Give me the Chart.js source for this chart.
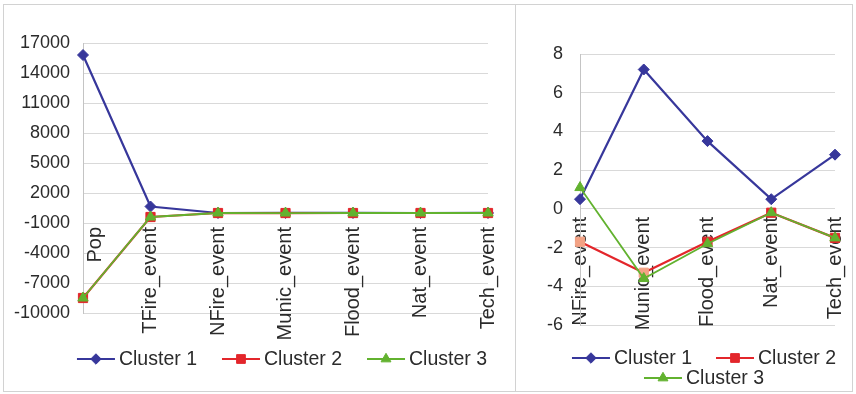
<!DOCTYPE html>
<html>
<head>
<meta charset="utf-8">
<script src="https://cdn.jsdelivr.net/npm/chart.js@4/dist/chart.umd.min.js"></script>
<style>
  html, body { margin: 0; padding: 0; background: #ffffff; }
  #frame { position: absolute; left: 3px; top: 4px; width: 850px; height: 388px;
           border: 1px solid #d2d2d2; box-sizing: border-box; }
  #divider { position: absolute; left: 515px; top: 4px; width: 1px; height: 388px; background: #d2d2d2; }
  #allChart { position: absolute; left: 0; top: 0; }
  #eventChart { position: absolute; left: 516px; top: 0; }
</style>
</head>
<body>
<div id="frame"></div>
<div id="divider"></div>
<canvas id="allChart" width="515" height="394"></canvas>
<canvas id="eventChart" width="337" height="394"></canvas>
<script>
const FONT = "'Liberation Sans', Arial, sans-serif";

// Factors shown on the two category axes
const allFactors = ['Pop', 'TFire_event', 'NFire_event', 'Munic_event', 'Flood_event', 'Nat_event', 'Tech_event'];
const eventFactors = ['NFire_event', 'Munic_event', 'Flood_event', 'Nat_event', 'Tech_event'];
const clusterNames = ['Cluster 1', 'Cluster 2', 'Cluster 3'];

// Cluster centres on the population and total-fire columns (Cluster 1, 2, 3)
const popCentres = [15800, -8500, -8500];
const tfireCentres = [650, -400, -400];

// Cluster centres on the event columns
const cluster1Events = [0.5, 7.2, 3.5, 0.5, 2.8];
const cluster2Events = [-1.7, -3.3, -1.7, -0.2, -1.5];
const cluster3Events = [1.1, -3.6, -1.8, -0.2, -1.5];

// Value-axis ticks
const allTicks = [-10000, -7000, -4000, -1000, 2000, 5000, 8000, 11000, 14000, 17000];
const eventTicks = [-6, -4, -2, 0, 2, 4, 6, 8];

const eventSeries = [cluster1Events, cluster2Events, cluster3Events];
const allSeries = eventSeries.map((ev, i) => [popCentres[i], tfireCentres[i], ...ev]);

const clusterStyles = [
  { color: '#37379b', point: 'rectRot', radius: 5.5, width: 2.2, order: 2 },
  { color: '#e3262b', point: 'rect', radius: 6.5, width: 2.2, order: 1 },
  { color: '#62b22f', point: 'triangle', radius: 6, width: 1.8, order: 0 }
];
const highlightFill = '#f3a284';

function buildDatasets(series, highlighted) {
  return series.map((values, i) => {
    const s = clusterStyles[i];
    const fills = values.map((v, j) => (highlighted[i] && highlighted[i].includes(j)) ? highlightFill : s.color);
    return {
      label: clusterNames[i],
      data: values,
      borderColor: s.color,
      borderWidth: s.width,
      backgroundColor: s.color,
      pointStyle: s.point,
      pointRadius: s.radius,
      pointBackgroundColor: fills,
      pointBorderColor: fills,
      pointBorderWidth: 1,
      tension: 0,
      clip: false,
      order: s.order
    };
  });
}

// Legend drawn as a short line with the series marker, then the name
const lineLegend = {
  id: 'lineLegend',
  afterDraw(chart, args, opts) {
    const ctx = chart.ctx;
    ctx.save();
    ctx.font = opts.fontSize + 'px ' + FONT;
    ctx.textBaseline = 'middle';
    ctx.textAlign = 'left';
    const sets = chart.data.datasets;
    const widths = sets.map(ds => opts.lineLength + opts.gap + ctx.measureText(ds.label).width);
    opts.rows.forEach((row, r) => {
      const total = row.reduce((a, i) => a + widths[i], 0) + opts.spacing * (row.length - 1);
      let x = opts.centerX - total / 2;
      const y = opts.top + r * opts.rowHeight;
      row.forEach(i => {
        const ds = sets[i];
        ctx.strokeStyle = ds.borderColor;
        ctx.lineWidth = ds.borderWidth;
        ctx.beginPath();
        ctx.moveTo(x, y);
        ctx.lineTo(x + opts.lineLength, y);
        ctx.stroke();
        ctx.fillStyle = ds.borderColor;
        ctx.lineWidth = 1;
        Chart.helpers.drawPoint(ctx, { pointStyle: ds.pointStyle, radius: ds.pointRadius * 0.95, rotation: 0, borderWidth: 1 },
          x + opts.lineLength / 2, y);
        ctx.fillStyle = '#2b2b2b';
        ctx.fillText(ds.label, x + opts.lineLength + opts.gap, y + 1);
        x += widths[i] + opts.spacing;
      });
    });
    ctx.restore();
  }
};

function buildChart(canvasId, cfg) {
  const ticks = cfg.ticks;
  return new Chart(document.getElementById(canvasId), {
    type: 'line',
    data: { labels: cfg.labels, datasets: cfg.datasets },
    options: {
      responsive: false,
      animation: false,
      events: [],
      layout: { padding: { left: 0, right: cfg.padRight, top: cfg.padTop, bottom: cfg.padBottom } },
      plugins: {
        legend: { display: false },
        tooltip: { enabled: false },
        lineLegend: cfg.legend
      },
      scales: {
        x: {
          position: { y: 0 },
          offset: false,
          grid: { display: false, drawTicks: false },
          border: { display: false },
          ticks: {
            autoSkip: false,
            minRotation: 90,
            maxRotation: 90,
            padding: cfg.labelGap,
            color: '#2b2b2b',
            font: c => (cfg.nudgeFirst && c.index === 0)
              ? { family: FONT, size: 20, lineHeight: 0.6 }
              : { family: FONT, size: 20, lineHeight: 1.2 },
            // the first label is pushed one half-line to the right, clear of the value axis
            callback: (v, i) => (cfg.nudgeFirst && i === 0) ? ['', cfg.labels[i]] : cfg.labels[i]
          },
          afterFit: s => { s.paddingLeft = 0; s.paddingRight = 0; }
        },
        y: {
          min: ticks[0],
          max: ticks[ticks.length - 1],
          ticks: {
            stepSize: ticks[1] - ticks[0],
            padding: cfg.tickGap,
            color: '#2b2b2b',
            font: { family: FONT, size: 18 },
            callback: v => String(v)
          },
          grid: { color: '#d9d9d9', lineWidth: 1, drawTicks: false },
          border: { display: true, color: '#c4c4c4', width: 1 },
          afterFit: s => { s.width = cfg.axisWidth; }
        }
      }
    },
    plugins: [lineLegend]
  });
}

buildChart('allChart', {
  labels: allFactors,
  datasets: buildDatasets(allSeries, []),
  ticks: allTicks,
  axisWidth: 83,
  tickGap: 13,
  labelGap: 14,
  nudgeFirst: true,
  padTop: 43,
  padBottom: 81,
  padRight: 27,
  legend: { fontSize: 19.5, lineLength: 38, gap: 4, spacing: 25, centerX: 282, top: 359, rowHeight: 20, rows: [[0, 1, 2]] }
});

buildChart('eventChart', {
  labels: eventFactors,
  datasets: buildDatasets(eventSeries, [null, [0, 1], null]),
  ticks: eventTicks,
  axisWidth: 64,
  tickGap: 17,
  labelGap: 8,
  nudgeFirst: false,
  padTop: 54,
  padBottom: 69,
  padRight: 18,
  legend: { fontSize: 19.5, lineLength: 38, gap: 4, spacing: 24, centerX: 188, top: 358, rowHeight: 20, rows: [[0, 1], [2]] }
});
</script>
</body>
</html>
